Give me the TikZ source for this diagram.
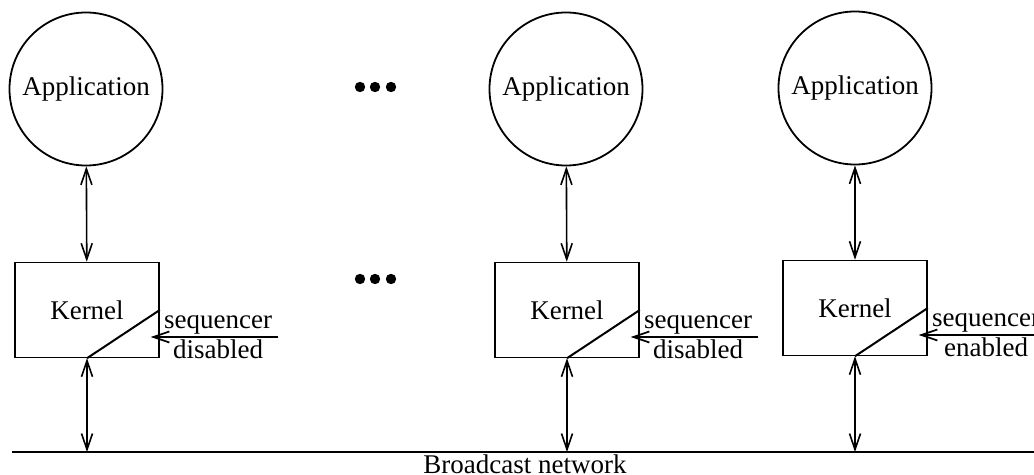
\documentclass[tikz,border=0pt]{standalone}
\usepackage{fontspec}
\setmainfont{Liberation Serif}
\usetikzlibrary{arrows.meta, positioning, calc}

\begin{document}
\begin{tikzpicture}[
		x=0.5pt, y=-0.5pt,
		every node/.style={font=\fontsize{13.5}{15}\selectfont},
		app/.style={circle, draw, line width=0.9pt, minimum size=76.5pt, inner sep=0pt},
		kernel/.style={rectangle, draw, line width=0.75pt, minimum width=72pt, minimum height=47.5pt},
		seq/.style={align=center, inner sep=0pt},
		arrow/.style={{Straight Barb[length=8pt,width=5.5pt]}-{Straight Barb[length=8pt,width=5.5pt]}, line width=0.8pt},
		feed/.style={-{Straight Barb[length=8pt,width=5.5pt]}, line width=0.85pt}
		]
		\useasboundingbox (0,0) rectangle (1034,475);
		
		% Applications
		\node[app] (app1) at (86,89) {Application};
		\node[app] (app2) at (566,89) {Application};
		\node[app] (app3) at (855,88) {Application};
		
		% Kernels
		\node[kernel] (ker1) at (87,310) {Kernel};
		\node[kernel] (ker2) at (567,310) {Kernel};
		\node[kernel] (ker3) at (855,308) {Kernel};
		
		% Sequencer labels
		\node[seq, anchor=west] (seq1) at ([xshift=2pt, yshift=-13.5pt]ker1.east) {sequencer\\disabled};
		\node[seq, anchor=west] (seq2) at ([xshift=2pt, yshift=-13.5pt]ker2.east) {sequencer\\disabled};
		\node[seq, anchor=west] (seq3) at ([xshift=2pt, yshift=-13.5pt]ker3.east) {sequencer\\enabled};
		
		% Broadcast network
		\coordinate (netL) at (12,452);
		\coordinate (netR) at (1034,452);
		\draw[line width=0.9pt] (netL) -- (netR);
		\node[anchor=north, inner sep=0pt] (net) at (525,454) {Broadcast network};
		
		% Links
		\foreach \i in {1,2,3} {
			\draw[arrow] (app\i) -- (ker\i);
			\coordinate (bus\i) at (ker\i.south |- netL);
			\draw[arrow] (ker\i.south) -- (bus\i);
			\draw[line width=1pt] (ker\i.south) -- (ker\i.east);
			\draw[feed, shorten <=-3pt, shorten >=-4.5pt] (seq\i.east) -- (seq\i.east -| ker\i.east);
		}
		
		% Ellipsis
		\foreach \x in {360,375,391} {
			\fill (\x,87) circle (2.6pt);
			\fill (\x,279) circle (2.6pt);
		}
		
	\end{tikzpicture}
\end{document}
